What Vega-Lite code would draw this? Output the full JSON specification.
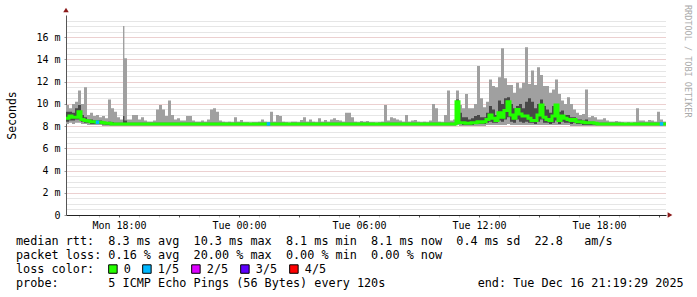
{
"$schema": "https://vega.github.io/schema/vega-lite/v6.json",
"width": 600, "height": 200,
"autosize": {"type": "none"},
"padding": {"left": 66, "top": 15, "right": 31, "bottom": 82},
"background": "white",
"config": {"view": {"stroke": null}, "font": "DejaVu Sans Mono"},
"datasets": {
  "hours": [{"t":16},{"t":17},{"t":18},{"t":19},{"t":20},{"t":21},{"t":22},{"t":23},{"t":24},{"t":25},{"t":26},{"t":27},{"t":28},{"t":29},{"t":30},{"t":31},{"t":32},{"t":33},{"t":34},{"t":35},{"t":36},{"t":37},{"t":38},{"t":39},{"t":40},{"t":41},{"t":42},{"t":43},{"t":44},{"t":45}]
},
"data": {"values": [
{"h":15.35,"lo":8.2,"q1":8.4,"md":8.7,"q3":9.3,"hi":9.9},
{"h":15.5,"lo":8.3,"q1":8.5,"md":8.9,"q3":9.3,"hi":9.6},
{"h":15.65,"lo":8.2,"q1":8.5,"md":8.8,"q3":9.2,"hi":10},
{"h":15.8,"lo":8.3,"q1":8.6,"md":8.8,"q3":9.6,"hi":10.2},
{"h":15.95,"lo":8.3,"q1":8.6,"md":9.3,"q3":9.9,"hi":11.2},
{"h":16.1,"lo":8.2,"q1":8.4,"md":8.6,"q3":9,"hi":10},
{"h":16.25,"lo":8.2,"q1":8.3,"md":8.5,"q3":8.8,"hi":11.5},
{"h":16.4,"lo":8.1,"q1":8.3,"md":8.45,"q3":8.6,"hi":9},
{"h":16.55,"lo":8.1,"q1":8.2,"md":8.4,"q3":8.6,"hi":9.2},
{"h":16.7,"lo":8.1,"q1":8.2,"md":8.4,"q3":8.5,"hi":8.9},
{"h":16.85,"lo":8.1,"q1":8.2,"md":8.35,"q3":8.5,"hi":9,"loss":"1/5"},
{"h":17,"lo":8.1,"q1":8.2,"md":8.35,"q3":8.5,"hi":8.8},
{"h":17.15,"lo":8,"q1":8.15,"md":8.3,"q3":8.4,"hi":8.9},
{"h":17.3,"lo":8,"q1":8.1,"md":8.25,"q3":8.35,"hi":8.7},
{"h":17.45,"lo":8,"q1":8.1,"md":8.25,"q3":8.4,"hi":10.4},
{"h":17.6,"lo":8,"q1":8.1,"md":8.2,"q3":8.35,"hi":9.6},
{"h":17.75,"lo":8,"q1":8.1,"md":8.2,"q3":8.3,"hi":9.3},
{"h":17.9,"lo":8,"q1":8.1,"md":8.2,"q3":8.3,"hi":8.8},
{"h":18.05,"lo":8,"q1":8.1,"md":8.2,"q3":8.3,"hi":8.6},
{"h":18.2,"lo":8,"q1":8.1,"md":8.2,"q3":8.9,"hi":17},
{"h":18.27,"lo":8,"q1":8.1,"md":8.2,"q3":8.5,"hi":14.1},
{"h":18.4,"lo":8,"q1":8.1,"md":8.2,"q3":8.3,"hi":8.6},
{"h":18.5,"lo":8,"q1":8.1,"md":8.2,"q3":8.3,"hi":8.6},
{"h":18.65,"lo":8,"q1":8.1,"md":8.2,"q3":8.3,"hi":9},
{"h":18.8,"lo":8,"q1":8.1,"md":8.2,"q3":8.3,"hi":9},
{"h":18.95,"lo":8,"q1":8.1,"md":8.2,"q3":8.3,"hi":8.6},
{"h":19.1,"lo":8,"q1":8.1,"md":8.2,"q3":8.3,"hi":8.8},
{"h":19.25,"lo":8,"q1":8.1,"md":8.2,"q3":8.3,"hi":8.5},
{"h":19.4,"lo":8,"q1":8.1,"md":8.2,"q3":8.3,"hi":8.4},
{"h":19.55,"lo":8,"q1":8.1,"md":8.2,"q3":8.3,"hi":8.4},
{"h":19.7,"lo":8,"q1":8.1,"md":8.2,"q3":8.3,"hi":8.5},
{"h":19.85,"lo":8,"q1":8.1,"md":8.2,"q3":8.3,"hi":9.5},
{"h":20,"lo":8,"q1":8.1,"md":8.2,"q3":8.3,"hi":9.9},
{"h":20.15,"lo":8,"q1":8.1,"md":8.2,"q3":8.3,"hi":9.5},
{"h":20.3,"lo":8,"q1":8.1,"md":8.2,"q3":8.3,"hi":8.9},
{"h":20.45,"lo":8,"q1":8.1,"md":8.2,"q3":8.3,"hi":10.3},
{"h":20.6,"lo":8,"q1":8.1,"md":8.2,"q3":8.3,"hi":9},
{"h":20.75,"lo":8,"q1":8.1,"md":8.2,"q3":8.3,"hi":8.6},
{"h":20.9,"lo":8,"q1":8.1,"md":8.2,"q3":8.3,"hi":8.7},
{"h":21.05,"lo":8,"q1":8.1,"md":8.2,"q3":8.3,"hi":8.5},
{"h":21.2,"lo":8,"q1":8.1,"md":8.2,"q3":8.3,"hi":8.5},
{"h":21.35,"lo":8,"q1":8.1,"md":8.2,"q3":8.3,"hi":8.9},
{"h":21.5,"lo":8,"q1":8.1,"md":8.2,"q3":8.3,"hi":8.9},
{"h":21.65,"lo":8,"q1":8.1,"md":8.2,"q3":8.3,"hi":8.5},
{"h":21.8,"lo":8,"q1":8.1,"md":8.2,"q3":8.3,"hi":8.4},
{"h":21.95,"lo":8,"q1":8.1,"md":8.2,"q3":8.3,"hi":8.4},
{"h":22.1,"lo":8,"q1":8.1,"md":8.2,"q3":8.3,"hi":8.5},
{"h":22.25,"lo":8,"q1":8.1,"md":8.2,"q3":8.3,"hi":8.4},
{"h":22.4,"lo":8,"q1":8.1,"md":8.2,"q3":8.3,"hi":8.6},
{"h":22.55,"lo":8,"q1":8.1,"md":8.2,"q3":8.3,"hi":9.5},
{"h":22.7,"lo":8,"q1":8.1,"md":8.2,"q3":8.3,"hi":9.6},
{"h":22.85,"lo":8,"q1":8.1,"md":8.2,"q3":8.3,"hi":9.3},
{"h":23,"lo":8,"q1":8.1,"md":8.2,"q3":8.3,"hi":8.5},
{"h":23.15,"lo":8,"q1":8.1,"md":8.2,"q3":8.3,"hi":8.4},
{"h":23.3,"lo":8,"q1":8.1,"md":8.2,"q3":8.3,"hi":8.35},
{"h":23.45,"lo":8,"q1":8.1,"md":8.2,"q3":8.3,"hi":8.4},
{"h":23.6,"lo":8,"q1":8.1,"md":8.2,"q3":8.3,"hi":8.35},
{"h":23.75,"lo":8,"q1":8.1,"md":8.2,"q3":8.3,"hi":8.8},
{"h":23.9,"lo":8,"q1":8.1,"md":8.2,"q3":8.3,"hi":8.4},
{"h":24.05,"lo":8,"q1":8.1,"md":8.2,"q3":8.3,"hi":8.55},
{"h":24.2,"lo":8,"q1":8.1,"md":8.2,"q3":8.3,"hi":8.35},
{"h":24.35,"lo":8,"q1":8.1,"md":8.2,"q3":8.3,"hi":8.35},
{"h":24.5,"lo":8,"q1":8.1,"md":8.2,"q3":8.3,"hi":8.3},
{"h":24.65,"lo":8,"q1":8.1,"md":8.2,"q3":8.3,"hi":8.35},
{"h":24.8,"lo":8,"q1":8.1,"md":8.2,"q3":8.3,"hi":8.35},
{"h":24.95,"lo":8,"q1":8.1,"md":8.2,"q3":8.3,"hi":8.4},
{"h":25.1,"lo":8,"q1":8.1,"md":8.2,"q3":8.3,"hi":8.6},
{"h":25.25,"lo":8,"q1":8.1,"md":8.2,"q3":8.3,"hi":8.4},
{"h":25.4,"lo":8,"q1":8.1,"md":8.2,"q3":8.3,"hi":8.35,"loss":"1/5"},
{"h":25.55,"lo":8,"q1":8.1,"md":8.2,"q3":8.3,"hi":9.3},
{"h":25.7,"lo":8,"q1":8.1,"md":8.2,"q3":8.3,"hi":8.4},
{"h":25.85,"lo":8,"q1":8.1,"md":8.2,"q3":8.3,"hi":9},
{"h":26,"lo":8,"q1":8.1,"md":8.2,"q3":8.3,"hi":8.9},
{"h":26.15,"lo":8,"q1":8.1,"md":8.2,"q3":8.3,"hi":8.4},
{"h":26.3,"lo":8,"q1":8.1,"md":8.2,"q3":8.3,"hi":8.35},
{"h":26.45,"lo":8,"q1":8.1,"md":8.2,"q3":8.3,"hi":8.3},
{"h":26.6,"lo":8,"q1":8.1,"md":8.2,"q3":8.3,"hi":8.4},
{"h":26.75,"lo":8,"q1":8.1,"md":8.2,"q3":8.3,"hi":8.4},
{"h":26.9,"lo":8,"q1":8.1,"md":8.2,"q3":8.3,"hi":8.35},
{"h":27.05,"lo":8,"q1":8.1,"md":8.2,"q3":8.3,"hi":8.55},
{"h":27.2,"lo":8,"q1":8.1,"md":8.2,"q3":8.3,"hi":8.8},
{"h":27.35,"lo":8,"q1":8.1,"md":8.2,"q3":8.3,"hi":8.4},
{"h":27.5,"lo":8,"q1":8.1,"md":8.2,"q3":8.3,"hi":8.6},
{"h":27.65,"lo":8,"q1":8.1,"md":8.2,"q3":8.3,"hi":8.4},
{"h":27.8,"lo":8,"q1":8.1,"md":8.2,"q3":8.3,"hi":8.35},
{"h":27.95,"lo":8,"q1":8.1,"md":8.2,"q3":8.3,"hi":8.7},
{"h":28.1,"lo":8,"q1":8.1,"md":8.2,"q3":8.3,"hi":8.4},
{"h":28.25,"lo":8,"q1":8.1,"md":8.2,"q3":8.3,"hi":8.55},
{"h":28.4,"lo":8,"q1":8.1,"md":8.2,"q3":8.3,"hi":8.4},
{"h":28.55,"lo":8,"q1":8.1,"md":8.2,"q3":8.3,"hi":8.6},
{"h":28.7,"lo":8,"q1":8.1,"md":8.2,"q3":8.3,"hi":8.7},
{"h":28.85,"lo":8,"q1":8.1,"md":8.2,"q3":8.3,"hi":8.55},
{"h":29,"lo":8,"q1":8.1,"md":8.2,"q3":8.3,"hi":8.5},
{"h":29.15,"lo":8,"q1":8.1,"md":8.2,"q3":8.3,"hi":8.4},
{"h":29.3,"lo":8,"q1":8.1,"md":8.2,"q3":8.3,"hi":9.2},
{"h":29.45,"lo":8,"q1":8.1,"md":8.2,"q3":8.3,"hi":9.2},
{"h":29.6,"lo":8,"q1":8.1,"md":8.2,"q3":8.3,"hi":8.8},
{"h":29.75,"lo":8,"q1":8.1,"md":8.2,"q3":8.3,"hi":8.4},
{"h":29.9,"lo":8,"q1":8.1,"md":8.2,"q3":8.3,"hi":8.35},
{"h":30.05,"lo":8,"q1":8.1,"md":8.2,"q3":8.3,"hi":8.45},
{"h":30.2,"lo":8,"q1":8.1,"md":8.2,"q3":8.3,"hi":8.4},
{"h":30.35,"lo":8,"q1":8.1,"md":8.2,"q3":8.3,"hi":8.45},
{"h":30.5,"lo":8,"q1":8.1,"md":8.2,"q3":8.3,"hi":8.35},
{"h":30.65,"lo":8,"q1":8.1,"md":8.2,"q3":8.3,"hi":8.35},
{"h":30.8,"lo":8,"q1":8.1,"md":8.2,"q3":8.3,"hi":8.3},
{"h":30.95,"lo":8,"q1":8.1,"md":8.2,"q3":8.3,"hi":8.35},
{"h":31.1,"lo":8,"q1":8.1,"md":8.2,"q3":8.3,"hi":8.4},
{"h":31.25,"lo":8,"q1":8.1,"md":8.2,"q3":8.3,"hi":9.9},
{"h":31.4,"lo":8,"q1":8.1,"md":8.2,"q3":8.3,"hi":8.5},
{"h":31.55,"lo":8,"q1":8.1,"md":8.2,"q3":8.3,"hi":8.8},
{"h":31.7,"lo":8,"q1":8.1,"md":8.2,"q3":8.3,"hi":8.7},
{"h":31.85,"lo":8,"q1":8.1,"md":8.2,"q3":8.3,"hi":8.6},
{"h":32,"lo":8,"q1":8.1,"md":8.2,"q3":8.3,"hi":8.5},
{"h":32.15,"lo":8,"q1":8.1,"md":8.2,"q3":8.3,"hi":8.4},
{"h":32.3,"lo":8,"q1":8.1,"md":8.2,"q3":8.3,"hi":9},
{"h":32.45,"lo":8,"q1":8.1,"md":8.2,"q3":8.3,"hi":8.4},
{"h":32.6,"lo":8,"q1":8.1,"md":8.2,"q3":8.3,"hi":8.5},
{"h":32.75,"lo":8,"q1":8.1,"md":8.2,"q3":8.3,"hi":8.55},
{"h":32.9,"lo":8,"q1":8.1,"md":8.2,"q3":8.3,"hi":8.4},
{"h":33.05,"lo":8,"q1":8.1,"md":8.2,"q3":8.3,"hi":8.35},
{"h":33.2,"lo":8,"q1":8.1,"md":8.2,"q3":8.3,"hi":8.4},
{"h":33.35,"lo":8,"q1":8.1,"md":8.2,"q3":8.3,"hi":8.35},
{"h":33.5,"lo":8,"q1":8.1,"md":8.2,"q3":8.3,"hi":8.5},
{"h":33.65,"lo":8,"q1":8.1,"md":8.2,"q3":8.3,"hi":10},
{"h":33.8,"lo":8,"q1":8.1,"md":8.2,"q3":8.3,"hi":9.6},
{"h":33.95,"lo":8,"q1":8.1,"md":8.2,"q3":8.3,"hi":8.4},
{"h":34.1,"lo":8,"q1":8.1,"md":8.2,"q3":8.3,"hi":8.35},
{"h":34.25,"lo":8,"q1":8.1,"md":8.2,"q3":8.3,"hi":9},
{"h":34.4,"lo":8,"q1":8.1,"md":8.2,"q3":8.3,"hi":11.2},
{"h":34.55,"lo":8,"q1":8.1,"md":8.2,"q3":8.3,"hi":8.5},
{"h":34.7,"lo":8,"q1":8.1,"md":8.2,"q3":8.3,"hi":8.6},
{"h":34.85,"lo":8.1,"q1":8.4,"md":10.2,"q3":10.4,"hi":11.2},
{"h":35,"lo":8,"q1":8.2,"md":8.3,"q3":9.2,"hi":9.9},
{"h":35.15,"lo":8,"q1":8.1,"md":8.3,"q3":8.8,"hi":9.6},
{"h":35.3,"lo":8,"q1":8.1,"md":8.25,"q3":8.8,"hi":10.9},
{"h":35.45,"lo":8,"q1":8.1,"md":8.25,"q3":8.6,"hi":9.6},
{"h":35.6,"lo":8,"q1":8.1,"md":8.3,"q3":8.7,"hi":9.6},
{"h":35.75,"lo":8,"q1":8.2,"md":8.3,"q3":8.9,"hi":10},
{"h":35.9,"lo":8,"q1":8.2,"md":8.4,"q3":9,"hi":13.4},
{"h":36.05,"lo":8,"q1":8.2,"md":8.35,"q3":8.8,"hi":10.5},
{"h":36.2,"lo":8,"q1":8.2,"md":8.4,"q3":8.8,"hi":9.7},
{"h":36.35,"lo":8.1,"q1":8.3,"md":8.6,"q3":9.2,"hi":10.2},
{"h":36.5,"lo":8.1,"q1":8.4,"md":9,"q3":9.8,"hi":12.2},
{"h":36.65,"lo":8.1,"q1":8.3,"md":8.7,"q3":9.5,"hi":11.6},
{"h":36.8,"lo":8.1,"q1":8.3,"md":8.5,"q3":9,"hi":11.5},
{"h":36.95,"lo":8.1,"q1":8.5,"md":9.2,"q3":10.3,"hi":12.4},
{"h":37.1,"lo":8.1,"q1":8.4,"md":8.8,"q3":10,"hi":15},
{"h":37.25,"lo":8.1,"q1":8.6,"md":9.4,"q3":10.5,"hi":12.3},
{"h":37.4,"lo":8.2,"q1":8.8,"md":10.2,"q3":10.6,"hi":11.7},
{"h":37.55,"lo":8.1,"q1":8.4,"md":9,"q3":10,"hi":11.7},
{"h":37.7,"lo":8.1,"q1":8.3,"md":8.7,"q3":9.6,"hi":11},
{"h":37.85,"lo":8.1,"q1":8.6,"md":9.5,"q3":9.8,"hi":11.9},
{"h":38,"lo":8.1,"q1":8.4,"md":9.1,"q3":10,"hi":11.4},
{"h":38.15,"lo":8.1,"q1":8.3,"md":8.9,"q3":9.6,"hi":11.9},
{"h":38.3,"lo":8.1,"q1":8.4,"md":8.9,"q3":10.2,"hi":15.1},
{"h":38.45,"lo":8.1,"q1":8.3,"md":8.7,"q3":10.5,"hi":11.8},
{"h":38.6,"lo":8.1,"q1":8.3,"md":8.5,"q3":10.2,"hi":13},
{"h":38.75,"lo":8.1,"q1":8.2,"md":8.5,"q3":9.6,"hi":11.7},
{"h":38.9,"lo":8.1,"q1":8.4,"md":9,"q3":10,"hi":13.3},
{"h":39.05,"lo":8.1,"q1":8.6,"md":9.9,"q3":10.4,"hi":12.6},
{"h":39.2,"lo":8.1,"q1":8.3,"md":8.8,"q3":9.8,"hi":11.6},
{"h":39.35,"lo":8.1,"q1":8.3,"md":8.6,"q3":9.5,"hi":11.6},
{"h":39.5,"lo":8.1,"q1":8.2,"md":8.5,"q3":9.2,"hi":11},
{"h":39.65,"lo":8.1,"q1":8.3,"md":8.9,"q3":9.8,"hi":11.3},
{"h":39.8,"lo":8.1,"q1":8.5,"md":9.9,"q3":10,"hi":12.2},
{"h":39.95,"lo":8.1,"q1":8.2,"md":8.5,"q3":9.3,"hi":10.9},
{"h":40.1,"lo":8.1,"q1":8.4,"md":8.9,"q3":9.4,"hi":10.3},
{"h":40.25,"lo":8.1,"q1":8.3,"md":8.7,"q3":9,"hi":10},
{"h":40.4,"lo":8.1,"q1":8.3,"md":8.6,"q3":9,"hi":10.6},
{"h":40.55,"lo":8,"q1":8.2,"md":8.5,"q3":8.8,"hi":10},
{"h":40.7,"lo":8,"q1":8.3,"md":8.6,"q3":8.8,"hi":9.5},
{"h":40.85,"lo":8,"q1":8.2,"md":8.4,"q3":8.6,"hi":9.2},
{"h":41,"lo":8,"q1":8.2,"md":8.4,"q3":8.6,"hi":9},
{"h":41.15,"lo":8,"q1":8.1,"md":8.35,"q3":8.5,"hi":9.1},
{"h":41.3,"lo":8,"q1":8.1,"md":8.3,"q3":8.6,"hi":11.3},
{"h":41.45,"lo":8,"q1":8.1,"md":8.3,"q3":8.4,"hi":8.8},
{"h":41.6,"lo":8,"q1":8.1,"md":8.3,"q3":8.4,"hi":8.9},
{"h":41.75,"lo":8,"q1":8.1,"md":8.25,"q3":8.35,"hi":8.8},
{"h":41.9,"lo":8,"q1":8.1,"md":8.2,"q3":8.3,"hi":8.6},
{"h":42.05,"lo":8,"q1":8.1,"md":8.2,"q3":8.3,"hi":8.6},
{"h":42.2,"lo":8,"q1":8.1,"md":8.2,"q3":8.3,"hi":8.7},
{"h":42.35,"lo":8,"q1":8.1,"md":8.2,"q3":8.3,"hi":8.5},
{"h":42.5,"lo":8,"q1":8.1,"md":8.2,"q3":8.3,"hi":8.4},
{"h":42.65,"lo":8,"q1":8.1,"md":8.2,"q3":8.3,"hi":8.4},
{"h":42.8,"lo":8,"q1":8.1,"md":8.2,"q3":8.3,"hi":8.45},
{"h":42.95,"lo":8,"q1":8.1,"md":8.2,"q3":8.3,"hi":8.4},
{"h":43.1,"lo":8,"q1":8.1,"md":8.2,"q3":8.3,"hi":8.35},
{"h":43.25,"lo":8,"q1":8.1,"md":8.2,"q3":8.3,"hi":8.3},
{"h":43.4,"lo":8,"q1":8.1,"md":8.2,"q3":8.3,"hi":8.35},
{"h":43.55,"lo":8,"q1":8.1,"md":8.2,"q3":8.3,"hi":8.3},
{"h":43.7,"lo":8,"q1":8.1,"md":8.2,"q3":8.3,"hi":8.35},
{"h":43.85,"lo":8,"q1":8.1,"md":8.2,"q3":8.3,"hi":9.6},
{"h":44,"lo":8,"q1":8.1,"md":8.2,"q3":8.3,"hi":8.5},
{"h":44.15,"lo":8,"q1":8.1,"md":8.2,"q3":8.3,"hi":8.5},
{"h":44.3,"lo":8,"q1":8.1,"md":8.2,"q3":8.3,"hi":8.4},
{"h":44.45,"lo":8,"q1":8.1,"md":8.2,"q3":8.3,"hi":8.55},
{"h":44.6,"lo":8,"q1":8.1,"md":8.2,"q3":8.3,"hi":8.5},
{"h":44.75,"lo":8,"q1":8.1,"md":8.2,"q3":8.3,"hi":8.4},
{"h":44.9,"lo":8,"q1":8.1,"md":8.2,"q3":8.3,"hi":9.3},
{"h":45.05,"lo":8,"q1":8.1,"md":8.2,"q3":8.3,"hi":8.6,"loss":"1/5"},
{"h":45.2,"lo":8,"q1":8.1,"md":8.2,"q3":8.3,"hi":8.4},
{"h":45.35,"lo":8,"q1":8.1,"md":8.2,"q3":8.3,"hi":8.4}
]},
"title": {
  "text": [
    "median rtt:\u00a0\u00a08.3 ms avg\u00a0\u00a010.3 ms max\u00a0\u00a08.1 ms min\u00a0\u00a08.1 ms now\u00a0\u00a00.4 ms sd\u00a0\u00a022.8\u00a0\u00a0\u00a0am/s",
    "packet loss: 0.16 % avg\u00a0\u00a020.00 % max\u00a0\u00a00.00 % min\u00a0\u00a00.00 % now",
    "loss color:",
    "probe:\u00a0\u00a0\u00a0\u00a0\u00a0\u00a0\u00a05 ICMP Echo Pings (56 Bytes) every 120s\u00a0\u00a0\u00a0\u00a0\u00a0\u00a0\u00a0\u00a0\u00a0\u00a0\u00a0\u00a0\u00a0end: Tue Dec 16 21:19:29 2025"
  ],
  "orient": "bottom", "anchor": "start", "frame": "group",
  "dx": -50, "offset": -40,
  "font": "DejaVu Sans Mono", "fontSize": 11.8, "fontWeight": "normal",
  "color": "#000000", "lineHeight": 14, "baseline": "top"
},
"encoding": {
  "x": {"field": "h", "type": "quantitative",
    "scale": {"domain": [15.35, 45.35], "nice": false, "zero": false},
    "axis": {"title": null, "orient": "bottom",
      "values": [16,17,18,19,20,21,22,23,24,25,26,27,28,29,30,31,32,33,34,35,36,37,38,39,40,41,42,43,44,45],
      "labelExpr": "datum.value == 18 ? 'Mon 18:00' : datum.value == 24 ? 'Tue 00:00' : datum.value == 30 ? 'Tue 06:00' : datum.value == 36 ? 'Tue 12:00' : datum.value == 42 ? 'Tue 18:00' : ''",
      "labelFont": "DejaVu Sans Mono", "labelFontSize": 10, "labelColor": "#000000",
      "labelPadding": 3, "labelOverlap": false, "labelFlush": false,
      "tickSize": 2, "tickColor": "#555555",
      "tickOpacity": {"condition": {"test": "datum.value % 3 == 0", "value": 1}, "value": 0.35},
      "domain": true, "domainColor": "#222222",
      "grid": false}
  },
  "y": {"field": "lo", "type": "quantitative",
    "scale": {"domain": [0, 18], "nice": false, "zero": true},
    "axis": {"title": "Seconds", "titleFont": "DejaVu Sans Mono", "titleFontSize": 11.5,
      "titleFontWeight": "normal", "titleColor": "#000000", "titlePadding": 18,
      "values": [0,0.5,1,1.5,2,2.5,3,3.5,4,4.5,5,5.5,6,6.5,7,7.5,8,8.5,9,9.5,10,10.5,11,11.5,12,12.5,13,13.5,14,14.5,15,15.5,16,16.5,17,17.5],
      "labelExpr": "datum.value == 0 ? '0' : (datum.value % 2 == 0 ? datum.value + ' m' : '')",
      "labelFont": "DejaVu Sans Mono", "labelFontSize": 10, "labelColor": "#000000",
      "labelPadding": 4, "labelOverlap": false, "labelBound": false, "labelFlush": false,
      "tickSize": 2, "tickColor": "#999999",
      "tickOpacity": {"condition": {"test": "datum.value % 2 == 0", "value": 1}, "value": 0},
      "domain": true, "domainColor": "#555555", "grid": true,
      "gridColor": {"condition": {"test": "datum.value % 2 == 0", "value": "#d8a0a0"}, "value": "#cccccc"},
      "gridDash": [1, 1], "gridWidth": 1}
  }
},
"layer": [
  {"data": {"name": "hours"},
   "mark": {"type": "rule", "strokeWidth": 1, "xOffset": 0.5},
   "encoding": {
     "x": {"field": "t", "type": "quantitative"},
     "y": {"datum": 0, "type": "quantitative"},
     "y2": {"datum": 18.1},
     "color": {"condition": {"test": "datum.t % 3 == 0", "value": "#e8c4c4"}, "value": "#e3e3e3"}
   }},
  {"mark": {"type": "area", "interpolate": "step-after", "color": "#a0a0a0", "clip": true},
   "encoding": {"y2": {"field": "hi"}}},
  {"mark": {"type": "area", "interpolate": "step-after", "color": "#484848", "clip": true},
   "encoding": {
     "y": {"field": "q1", "type": "quantitative"},
     "y2": {"field": "q3"}
   }},
  {"mark": {"type": "line", "interpolate": "step-after", "color": "#22ff00", "strokeWidth": 3, "clip": true},
   "encoding": {
     "y": {"field": "md", "type": "quantitative"}
   }},
  {"transform": [{"filter": "isValid(datum.loss)"}],
   "mark": {"type": "square", "size": 12, "opacity": 1, "xOffset": 1.5},
   "encoding": {
     "y": {"field": "md", "type": "quantitative"},
     "color": {"field": "loss", "type": "nominal",
       "scale": {"domain": ["0", "1/5", "2/5", "3/5", "4/5"],
                 "range": ["#26ff00", "#00b8ff", "#dd00ff", "#5e00ff", "#ff0000"]},
       "legend": {"title": null, "orient": "none", "legendX": 41, "legendY": 248,
         "direction": "horizontal", "columns": 5, "columnPadding": 9,
         "symbolType": "square", "symbolSize": 72, "symbolStrokeColor": "#000000",
         "symbolStrokeWidth": 1, "symbolOpacity": 1,
         "labelFont": "DejaVu Sans Mono", "labelFontSize": 11.8, "labelColor": "#000000",
         "labelOffset": 5, "padding": 0}}
   }},
  {"transform": [{"filter": "datum.h > 45.3"}],
   "mark": {"type": "point", "shape": "triangle-right", "filled": true, "color": "#8b1a1a", "size": 30, "opacity": 1, "xOffset": 4},
   "encoding": {
     "y": {"datum": 0, "type": "quantitative"}
   }},
  {"transform": [{"filter": "datum.h < 15.4"}],
   "mark": {"type": "point", "shape": "triangle-up", "filled": true, "color": "#8b1a1a", "size": 30, "opacity": 1},
   "encoding": {
     "y": {"datum": 18.45, "type": "quantitative"}
   }},
  {"transform": [{"filter": "datum.h > 45.3"}],
   "mark": {"type": "text", "text": "RRDTOOL / TOBI OETIKER", "angle": 90, "align": "left", "baseline": "middle",
     "xOffset": 22, "font": "DejaVu Sans Mono", "fontSize": 8.5, "color": "#aaaaaa"},
   "encoding": {
     "y": {"datum": 18.9, "type": "quantitative"}
   }}
]
}
